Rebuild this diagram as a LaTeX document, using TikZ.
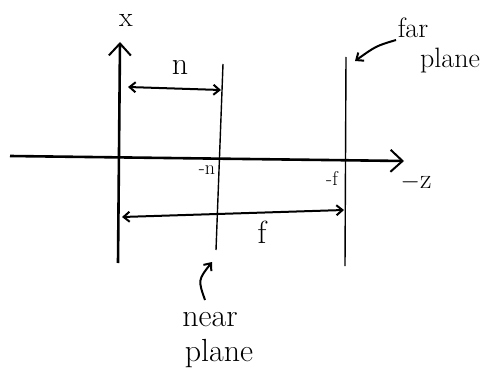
\documentclass[tikz,border=0pt]{standalone}
\usetikzlibrary{arrows.meta}
\begin{document}
\begin{tikzpicture}[x=1pt,y=-1pt,
  axis/.style={line width=2.6pt,-{Straight Barb[length=12pt,width=22pt,line width=2pt]}},
  plane/.style={line width=1.4pt},
  dim/.style={line width=2pt,{Straight Barb[length=6pt,width=10pt]}-{Straight Barb[length=6pt,width=10pt]}},
  pointer/.style={line width=2pt,-{Straight Barb[length=6pt,width=10pt]}},
  lbl/.style={inner sep=0pt,font=\fontsize{32}{34}\selectfont},
  small/.style={inner sep=0pt,font=\fontsize{20}{22}\selectfont},
  big/.style={inner sep=0pt,font=\fontsize{28}{30}\selectfont}]
\useasboundingbox (0,0) rectangle (494,377);
% axes
\coordinate (xb) at (118,263);
\coordinate (xt) at (120,42);
\coordinate (zl) at (10,156);
\coordinate (zr) at (404,161);
\draw[axis] (xb) -- (xt);
\draw[axis] (zl) -- (zr);
\node[big] (xlab) at (126,20) {x};
\node[big] (zlab) at (416,182) {$-$z};
% planes
\coordinate (nt) at (223,64);
\coordinate (nb) at (216,250);
\coordinate (ft) at (346,57);
\coordinate (fb) at (345,266);
\draw[plane] (nt) -- (nb);
\draw[plane] (ft) -- (fb);
% n dimension
\coordinate (na) at (128,87);
\coordinate (nz) at (221,90);
\draw[dim] (na) -- (nz);
\node[lbl] (nlab) at (180,67) {n};
% f dimension
\coordinate (fa) at (122,217);
\coordinate (fz) at (344,210);
\draw[dim] (fa) -- (fz);
\node[lbl] (flab) at (262,232) {f};
% tick labels
\node[small] (mn) at (207,170) {-n};
\node[small] (mf) at (332,178) {-f};
% far plane
\node[big] (far) at (413,28) {far};
\node[big] (farp) at (450,61) {plane};
\coordinate (fs) at (396,40);
\coordinate (fe) at (355,61);
\draw[pointer] (fs) .. controls (376,46) .. (fe);
% near plane
\node[lbl] (near) at (210,320) {near};
\node[lbl] (nearp) at (219,354) {plane};
\coordinate (ns) at (205,300);
\coordinate (ne) at (212,262);
\draw[pointer] (ns) .. controls (198,280) .. (ne);
\end{tikzpicture}
\end{document}
